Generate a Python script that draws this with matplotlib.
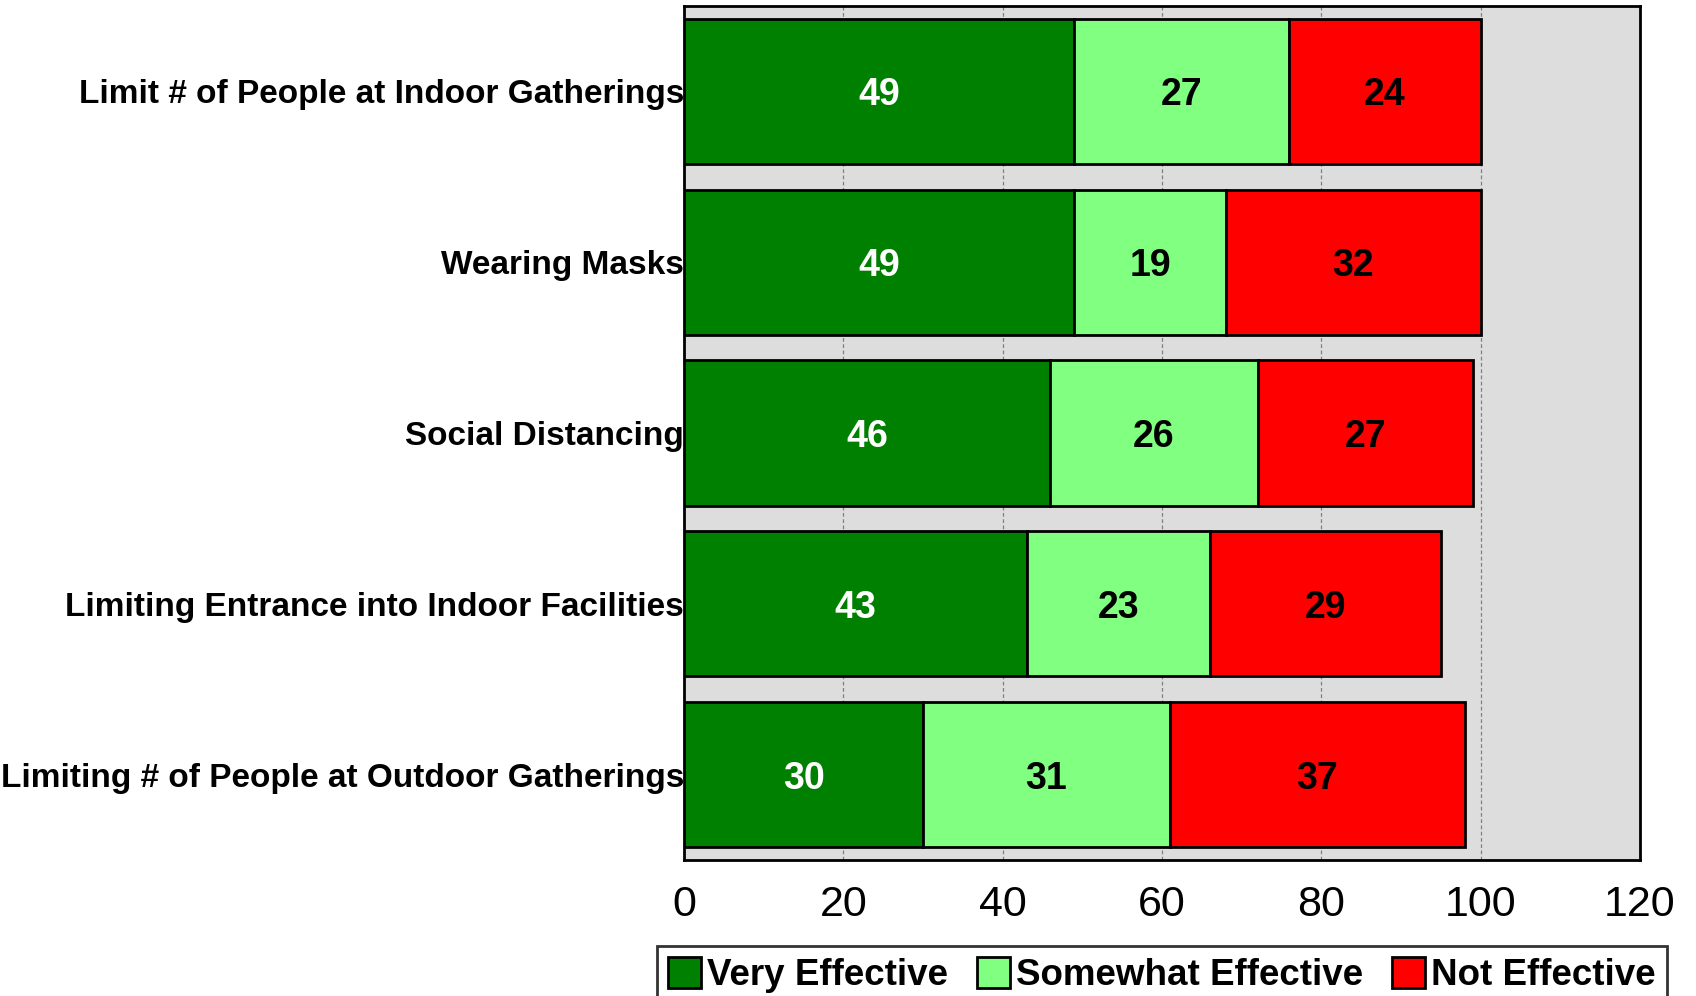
import matplotlib.pyplot as plt
import numpy as np

# === data ===
categories = [
    "Limit # of People at Indoor Gatherings",
    "Wearing Masks",
    "Social Distancing",
    "Limiting Entrance into Indoor Facilities",
    "Limiting # of People at Outdoor Gatherings",
]
very_effective = [49, 49, 46, 43, 30]
somewhat_effective = [27, 19, 26, 23, 31]
not_effective = [24, 32, 27, 29, 37]
series_names = ["Very Effective", "Somewhat Effective", "Not Effective"]
colors = ["#008000", "#80FF80", "#FF0000"]
text_colors = ["white", "black", "black"]
xticks = [0, 20, 40, 60, 80, 100, 120]

fig = plt.figure(figsize=(16.96, 9.96), dpi=100)
ax = fig.add_axes([684 / 1696, 1 - 860 / 996, (1640 - 684) / 1696, (860 - 6) / 996])
ax.set_facecolor("#DDDDDD")

y = np.arange(len(categories))
left = np.zeros(len(categories))
for vals, name, c, tc in zip([very_effective, somewhat_effective, not_effective],
                             series_names, colors, text_colors):
    vals = np.array(vals)
    ax.barh(y, vals, left=left, height=0.85, color=c, edgecolor="black",
            linewidth=2, label=name, zorder=3)
    # value labels in bar centers
    for yi, l, v in zip(y, left, vals):
        ax.text(l + v / 2, yi, str(v), ha="center", va="center_baseline",
                color=tc, fontsize=27, fontweight="bold", family="Liberation Sans",
                zorder=4)
    left += vals

ax.set_xlim(0, 120)
ax.set_ylim(len(categories) - 0.5, -0.5)
ax.set_xticks(xticks)
ax.set_xticklabels([str(t) for t in xticks], fontsize=31, family="Liberation Sans")
ax.set_yticks(y)
ax.set_yticklabels(categories, fontsize=24, fontweight="bold", family="Liberation Sans")
ax.tick_params(axis="both", length=0)
ax.tick_params(axis="x", pad=18)
ax.tick_params(axis="y", pad=0)
ax.grid(axis="x", color="#808080", linestyle=(0, (3, 2)), linewidth=0.9, zorder=0)
ax.set_axisbelow(True)
for s in ax.spines.values():
    s.set_linewidth(2)
    s.set_color("black")

leg = fig.legend(loc="upper left", bbox_to_anchor=(657 / 1696, 1 - 946 / 996),
                 ncol=3, frameon=True, fancybox=False, edgecolor="black",
                 handlelength=0.9, handleheight=0.9, handletextpad=0.15,
                 columnspacing=0.8, borderpad=0.3, borderaxespad=0,
                 prop={"family": "Liberation Sans", "weight": "bold", "size": 26.5})
leg.get_frame().set_linewidth(2)

fig.savefig("out.png", dpi=100)
